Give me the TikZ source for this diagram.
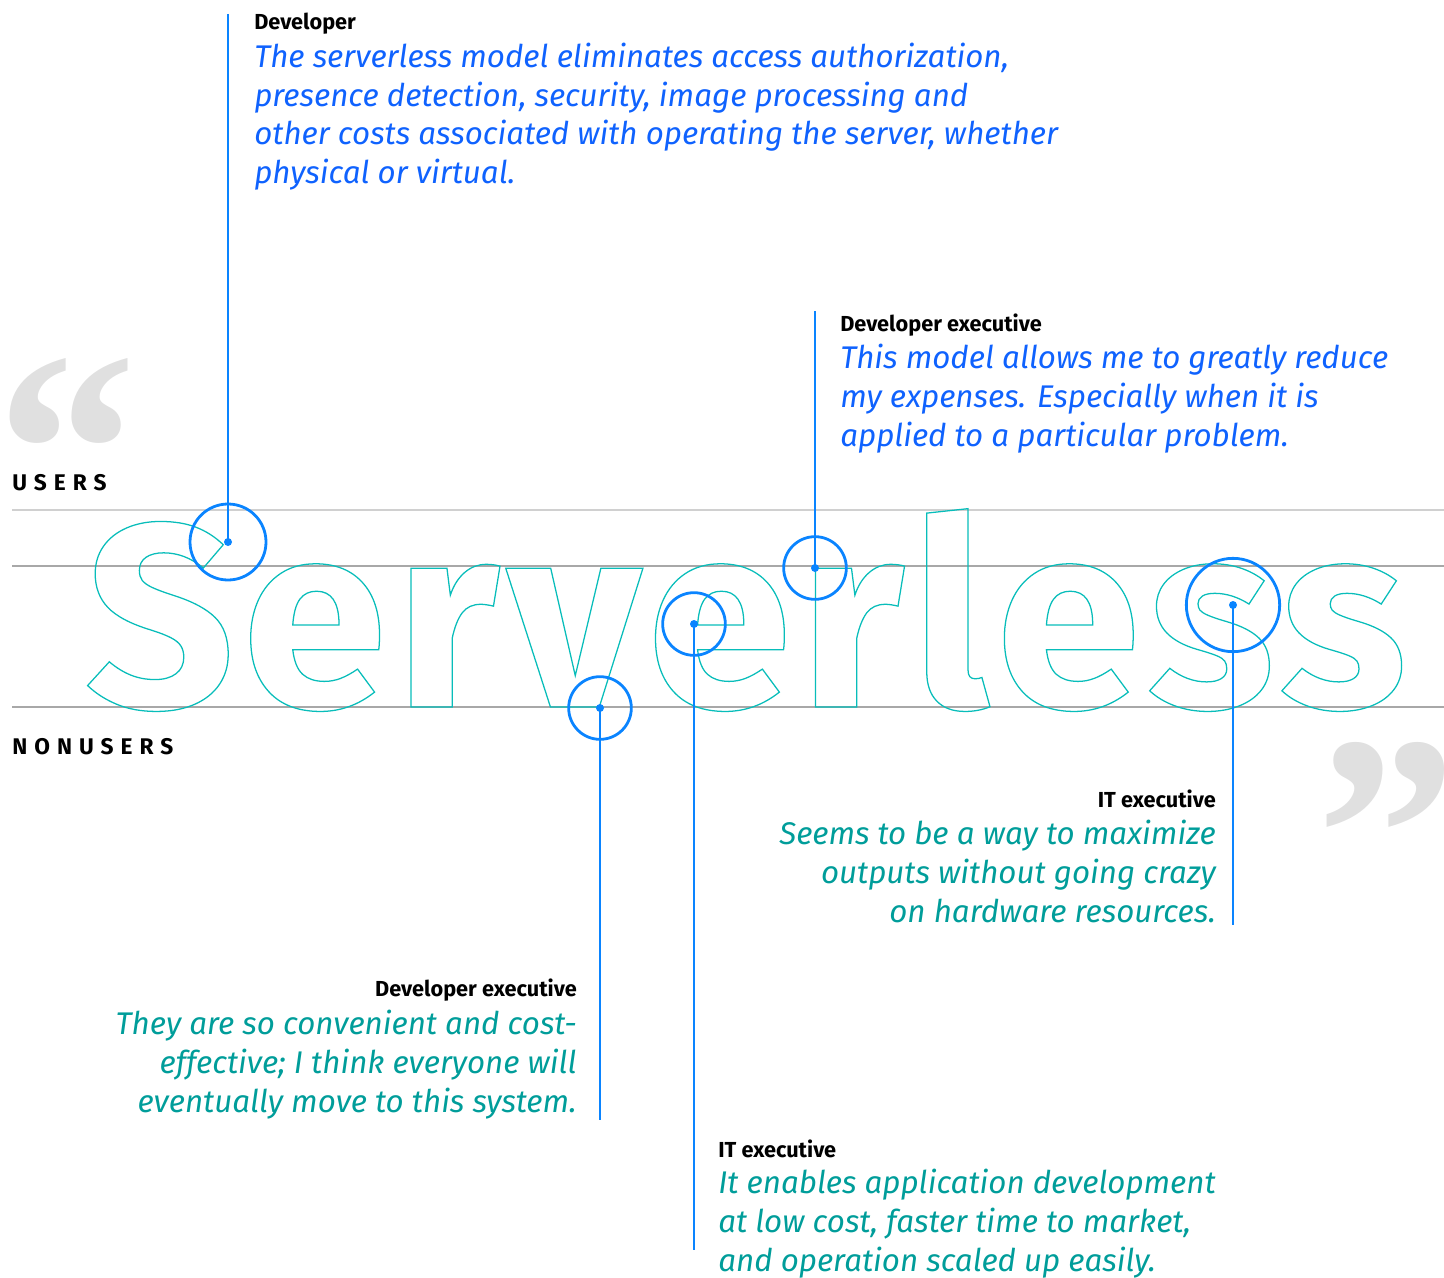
\documentclass[tikz,border=0pt]{standalone}
\usepackage{fontspec}
\setmainfont{Fira Sans}
\newfontfamily\bigfont[LetterSpace=3]{Fira Sans}
\newfontfamily\capsfont[LetterSpace=31]{Fira Sans}
\newfontfamily\quotefont{Liberation Serif}
\definecolor{qblue}{HTML}{0F62FE}
\definecolor{qteal}{HTML}{009D9A}
\definecolor{otlteal}{HTML}{08BDBA}
\definecolor{pinblue}{HTML}{0A84FF}
\definecolor{qgray}{HTML}{E0E0E0}
\definecolor{lightrule}{HTML}{D0D0D0}
\definecolor{darkrule}{HTML}{A8A8A8}
\newcommand\outlinetext[1]{\special{pdf:literal direct 1 Tr 0.95 w}#1\special{pdf:literal direct 0 Tr}}
\tikzset{
  lbl/.style={inner sep=0pt, font=\fontsize{16.3}{19}\selectfont\bfseries, text=black},
  quotetext/.style={inner sep=0pt, font=\fontsize{23.5}{28.9}\selectfont\itshape},
  ring/.style={circle, draw=pinblue, line width=2.1pt, inner sep=0pt, minimum size=#1},
  pindot/.style={circle, fill=pinblue, inner sep=0pt, minimum size=6pt},
  leader/.style={draw=pinblue, line width=1.1pt},
  heading/.style={inner sep=0pt, font=\capsfont\fontsize{17}{20}\selectfont\bfseries, text=black},
  bigquote/.style={inner sep=0pt, text=qgray, font=\quotefont\fontsize{211}{211}\selectfont\bfseries},
}
\begin{document}
\begin{tikzpicture}[x=0.75pt,y=-0.75pt]
\useasboundingbox (0,0) rectangle (1444,1277);
% guide rules
\draw[lightrule, line width=1.5pt] (12,510) -- (1444,510);
\draw[darkrule, line width=0.8pt] (12,566) -- (1444,566);
\draw[darkrule, line width=0.8pt] (12,707) -- (1444,707);
% big quotes
\node[bigquote, anchor=north west] (oq) at (-4,358) {“};
\node[bigquote, anchor=north east] (cq) at (1457,742) {”};
% headings
\node[heading, anchor=base west] (users) at (12,490) {USERS};
\node[heading, anchor=base west] (nonusers) at (12,754) {NONUSERS};
% outline word
\node[inner sep=0pt, anchor=base west, text=otlteal, font=\bigfont\fontsize{196}{196}\selectfont\bfseries] (word) at (85,707) {\outlinetext{Serverless}};
% pins
\node[ring=57pt] (c1) at (228,542) {};
\node[ring=47pt] (c2) at (815,568) {};
\node[ring=47pt] (c3) at (694,624) {};
\node[ring=47pt] (c4) at (600,708) {};
\node[ring=70pt] (c5) at (1233,605) {};
\node[pindot] (d1) at (c1.center) {};
\node[pindot] (d2) at (c2.center) {};
\node[pindot] (d3) at (c3.center) {};
\node[pindot] (d4) at (c4.center) {};
\node[pindot] (d5) at (c5.center) {};
\coordinate (e1) at (228,14);
\coordinate (e2) at (815,311);
\coordinate (e3) at (694,1250);
\coordinate (e4) at (600,1120);
\coordinate (e5) at (1233,925);
\draw[leader] (e1) -- (d1.center);
\draw[leader] (e2) -- (d2.center);
\draw[leader] (d3.center) -- (e3);
\draw[leader] (d4.center) -- (e4);
\draw[leader] (d5.center) -- (e5);
% quotes
\node[lbl, anchor=base west] (l1) at (254,29.5) {Developer};
\node[quotetext, text=qblue, align=left, anchor=base west] (t1) at (254,183.5) {The serverless model eliminates access authorization,\\presence detection, security, image processing and\\other costs associated with operating the server, whether\\physical or virtual.};
\node[lbl, anchor=base west] (l2) at (840,331.5) {Developer executive};
\node[quotetext, text=qblue, align=left, anchor=base west] (t2) at (840,446) {This model allows me to greatly reduce\\my expenses. Especially when it is\\applied to a particular problem.};
\node[lbl, anchor=base east] (l3) at (1216,807.5) {IT executive};
\node[quotetext, text=qteal, align=right, anchor=base east] (t3) at (1216,922) {Seems to be a way to maximize\\outputs without going crazy\\on hardware resources.};
\node[lbl, anchor=base east] (l4) at (577,996.5) {Developer executive};
\node[quotetext, text=qteal, align=right, anchor=base east] (t4) at (577,1112) {They are so convenient and cost-\\effective; I think everyone will\\eventually move to this system.};
\node[lbl, anchor=base west] (l5) at (718,1157.5) {IT executive};
\node[quotetext, text=qteal, align=left, anchor=base west] (t5) at (718,1271) {It enables application development\\at low cost, faster time to market,\\and operation scaled up easily.};
\end{tikzpicture}
\end{document}
